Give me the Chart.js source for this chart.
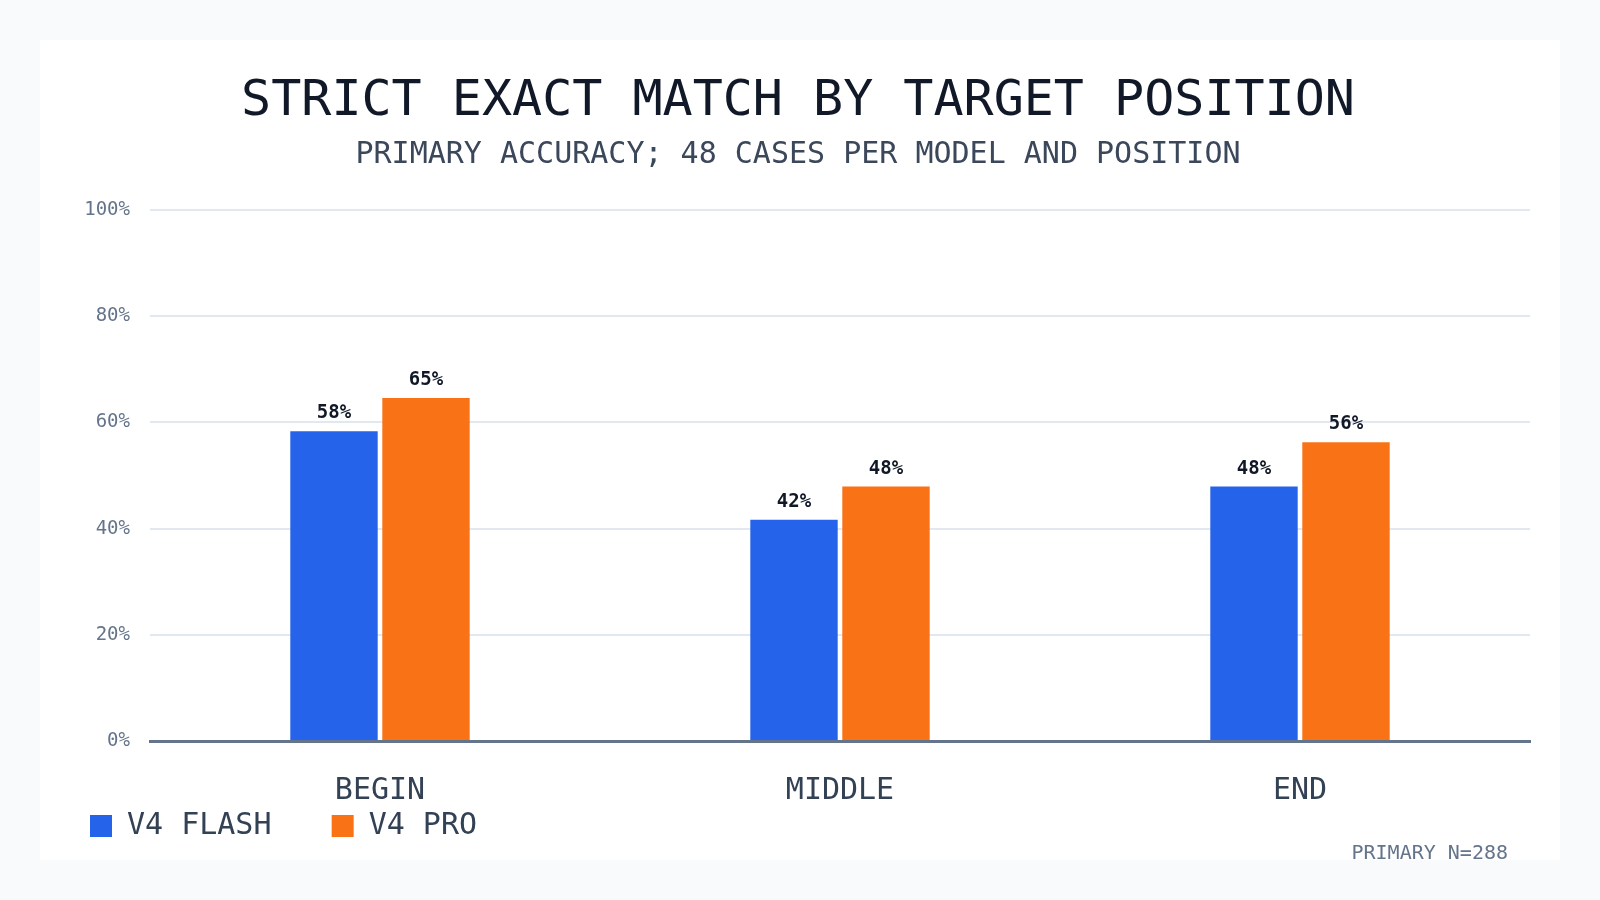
<!DOCTYPE html>
<html>
<head>
<meta charset="utf-8">
<title>Strict exact match by target position</title>
<script src="https://cdn.jsdelivr.net/npm/chart.js@4/dist/chart.umd.min.js"></script>
<style>
  html, body { margin: 0; padding: 0; background: #f8fafc; }
  body { width: 1600px; height: 900px; position: relative; overflow: hidden; }
  .card { position: absolute; left: 40px; top: 40px; width: 1520px; height: 820px; background: #ffffff; }
</style>
</head>
<body>
<div class="card"><canvas id="positions"></canvas></div>
<script>
'use strict';

// values (48 cases per model and position)
let positions = ['BEGIN', 'MIDDLE', 'END'];
let flashScores = [58.33, 41.67, 47.92];
let proScores = [64.58, 47.92, 56.25];
let yTicks = [0, 20, 40, 60, 80, 100];
let seriesNames = ['V4 FLASH', 'V4 PRO'];

const mono = '"DejaVu Sans Mono", "Liberation Mono", monospace';

// percent labels above every bar
const valueLabels = {
    id: 'valueLabels',
    afterDatasetsDraw(chart) {
        let ctx = chart.ctx;
        ctx.save();
        ctx.font = 'bold 19px ' + mono;
        ctx.fillStyle = '#111827';
        ctx.textAlign = 'center';
        ctx.textBaseline = 'alphabetic';
        chart.data.datasets.forEach(function (ds, i) {
            chart.getDatasetMeta(i).data.forEach(function (bar, j) {
                ctx.fillText(Math.round(ds.data[j]) + '%', bar.x, bar.y - 13);
            });
        });
        ctx.restore();
    }
};

// title and subtitle sit centred on the card, not on the padded layout
const centerTitles = {
    id: 'centerTitles',
    afterLayout(chart) {
        chart.boxes.forEach(function (box) {
            if (box.position === 'top') {
                box.left -= 9;
                box.right -= 9;
            }
        });
    }
};

// small note in the lower right corner
const footNote = {
    id: 'footNote',
    afterDraw(chart) {
        let ctx = chart.ctx;
        ctx.save();
        ctx.font = '20px ' + mono;
        ctx.fillStyle = '#64748b';
        ctx.textAlign = 'right';
        ctx.textBaseline = 'middle';
        ctx.fillText('PRIMARY N=288', chart.width - 52, chart.height - 6);
        ctx.restore();
    }
};

let positionsCtx = document.getElementById('positions').getContext('2d');
let positionsChart = new Chart(positionsCtx, {
    type: 'bar',
    data: {
        labels: positions,
        datasets: [{
            label: seriesNames[0],
            data: flashScores,
            backgroundColor: '#2563eb',
            categoryPercentage: 0.4,
            barPercentage: 0.95
        }, {
            label: seriesNames[1],
            data: proScores,
            backgroundColor: '#f97316',
            categoryPercentage: 0.4,
            barPercentage: 0.95
        }]
    },
    options: {
        responsive: true,
        maintainAspectRatio: false,
        animation: false,
        devicePixelRatio: 1,
        layout: {
            padding: { left: 44, right: 30, top: 0, bottom: 9 }
        },
        plugins: {
            title: {
                display: true,
                text: 'STRICT EXACT MATCH BY TARGET POSITION',
                color: '#111827',
                font: { family: mono, size: 50, weight: 'normal', lineHeight: 1.2 },
                padding: { top: 32, bottom: 0 }
            },
            subtitle: {
                display: true,
                text: 'PRIMARY ACCURACY; 48 CASES PER MODEL AND POSITION',
                color: '#3b475a',
                font: { family: mono, size: 30, weight: 'normal', lineHeight: 1.2 },
                padding: { top: 5, bottom: 37 }
            },
            legend: {
                position: 'bottom',
                align: 'start',
                labels: {
                    color: '#334155',
                    font: { family: mono, size: 30 },
                    boxWidth: 22,
                    boxHeight: 22,
                    padding: 6,
                    generateLabels: function (chart) {
                        let items = Chart.defaults.plugins.legend.labels.generateLabels(chart);
                        items.forEach(function (item, i) {
                            item.lineWidth = 0;
                            if (i === 0) item.text = item.text + '   ';
                        });
                        return items;
                    }
                }
            },
            tooltip: { enabled: false }
        },
        scales: {
            x: {
                afterFit: function (scale) {
                    scale.height = 64;
                },
                grid: { display: false, drawTicks: false },
                border: { display: true, color: '#64748b', width: 3 },
                ticks: {
                    color: '#334155',
                    font: { family: mono, size: 30, lineHeight: 1 },
                    padding: 35
                }
            },
            y: {
                min: 0,
                max: 100,
                afterBuildTicks: function (scale) {
                    scale.ticks = yTicks.map(function (v) { return { value: v }; });
                },
                afterFit: function (scale) {
                    scale.width = 66;
                },
                grid: { color: '#e2e8f0', lineWidth: 2, drawTicks: false },
                border: { display: false },
                ticks: {
                    color: '#64748b',
                    font: { family: mono, size: 19 },
                    padding: 20,
                    callback: function (v) { return v + '%'; }
                }
            }
        }
    },
    plugins: [valueLabels, centerTitles, footNote]
});
</script>
</body>
</html>
